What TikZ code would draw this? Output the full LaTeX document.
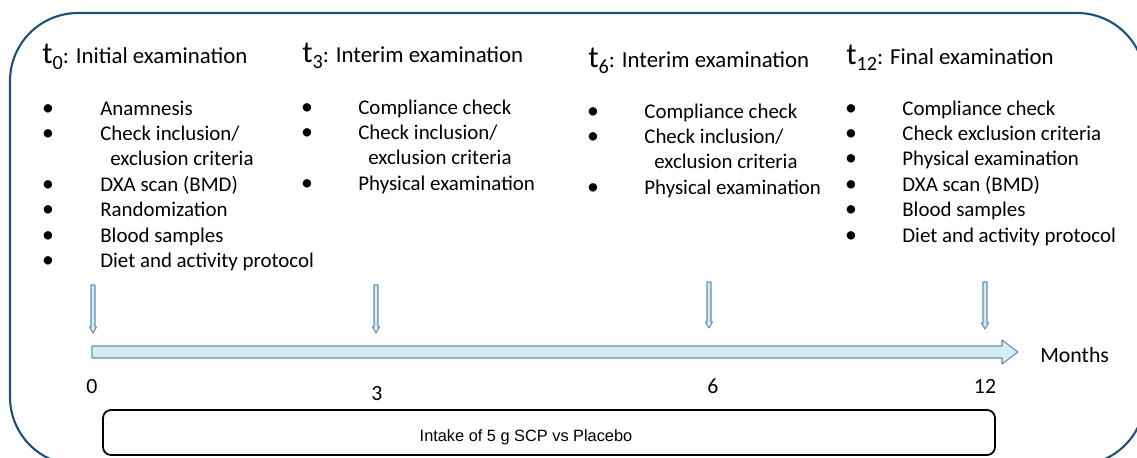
\documentclass[tikz,border=0pt]{standalone}
\usepackage{fontspec}
\setmainfont{Carlito}
\newfontfamily\arialfont{Liberation Sans}
\usetikzlibrary{positioning}

\definecolor{framecol}{RGB}{31,78,121}
\definecolor{barfill}{RGB}{214,236,242}
\definecolor{barline}{RGB}{100,145,178}

% big t with subscript for the visit titles
\newcommand{\visit}[1]{{\fontsize{17.5}{18}\selectfont t}\raisebox{-3.8pt}{\fontsize{11.5}{12}\selectfont #1}}

\tikzset{
  head/.style={anchor=base west, inner sep=0pt, font=\fontsize{13}{15}\selectfont},
  item/.style={anchor=base west, inner sep=0pt, font=\fontsize{11.9}{14}\selectfont},
  dot/.style={anchor=base, inner sep=0pt, font=\fontsize{13.5}{14}\selectfont},
  tick/.style={inner sep=0pt, font=\fontsize{12.4}{14}\selectfont},
  downarrow/.style={fill=barfill, draw=barline, line width=0.6pt, line join=round},
}

\begin{document}
\begin{tikzpicture}[x=0.02cm, y=-0.02cm]
  \useasboundingbox (0,0) rectangle (1137,457);
  \clip (0,0) rectangle (1137,457);

  % outer frame
  \draw[framecol, line width=1.2pt, rounded corners=1.36cm] (10,13) rectangle (1145,465);

  % visit titles
  \node[head] (h0)  at (42,63)  {\visit{0}: Initial examination};
  \node[head] (h3)  at (302,62) {\visit{3}: Interim examination};
  \node[head] (h6)  at (588,67) {\visit{6}: Interim examination};
  \node[head] (h12) at (846,64) {\visit{12}: Final examination};

  % bullet lists: text/has bullet/extra indent
  \foreach \txt/\b/\ind [count=\i] in {Anamnesis/1/0, {Check inclusion/}/1/0, exclusion criteria/0/10,
      DXA scan (BMD)/1/0, Randomization/1/0, Blood samples/1/0, Diet and activity protocol/1/0} {
    \pgfmathsetmacro{\yy}{115+(\i-1)*25.4}
    \ifnum\b=1 \node[dot] (da\i) at (48,\yy) {•}; \fi
    \node[item] (a\i) at (100+\ind,\yy) {\txt};
  }
  \foreach \txt/\b/\ind [count=\i] in {Compliance check/1/0, {Check inclusion/}/1/0,
      exclusion criteria/0/10, Physical examination/1/0} {
    \pgfmathsetmacro{\yy}{114+(\i-1)*25.4}
    \ifnum\b=1 \node[dot] (db\i) at (307,\yy) {•}; \fi
    \node[item] (b\i) at (358+\ind,\yy) {\txt};
  }
  \foreach \txt/\b/\ind [count=\i] in {Compliance check/1/0, {Check inclusion/}/1/0,
      exclusion criteria/0/10, Physical examination/1/0} {
    \pgfmathsetmacro{\yy}{118+(\i-1)*25.4}
    \ifnum\b=1 \node[dot] (dc\i) at (593,\yy) {•}; \fi
    \node[item] (c\i) at (644+\ind,\yy) {\txt};
  }
  \foreach \txt [count=\i] in {Compliance check, Check exclusion criteria, Physical examination,
      DXA scan (BMD), Blood samples, Diet and activity protocol} {
    \pgfmathsetmacro{\yy}{115+(\i-1)*25.4}
    \node[dot] (dd\i) at (851,\yy) {•};
    \node[item] (d\i) at (902,\yy) {\txt};
  }

  % small arrows down to the time axis
  \foreach \x/\top/\bot in {93/285/333, 376/285/333, 709/282/328, 985/282/329} {
    \draw[downarrow] (\x-2,\top) -- (\x+2,\top) -- (\x+2,\bot-6) -- (\x+3.5,\bot-6)
      -- (\x,\bot) -- (\x-3.5,\bot-6) -- (\x-2,\bot-6) -- cycle;
  }

  % time axis
  \coordinate (start) at (92,352);
  \coordinate (tip) at (1018,352);
  \draw[downarrow] (92,346) -- (1002,346) -- (1002,340) -- (tip) -- (1002,364)
    -- (1002,358) -- (92,358) -- cycle;
  \node[tick, anchor=west] (months) at (1040,355) {Months};

  \node[tick] (m0)  at (92,386)  {0};
  \node[tick] (m3)  at (377,393) {3};
  \node[tick] (m6)  at (713,386) {6};
  \node[tick] (m12) at (985,386) {12};

  % intake box
  \draw[line width=1pt, rounded corners=0.16cm] (103,410) rectangle (995,455);
  \node[inner sep=0pt, font=\arialfont\fontsize{9.3}{11}\selectfont] (intake) at (526,437)
    {Intake of 5 g SCP vs Placebo};
\end{tikzpicture}
\end{document}
